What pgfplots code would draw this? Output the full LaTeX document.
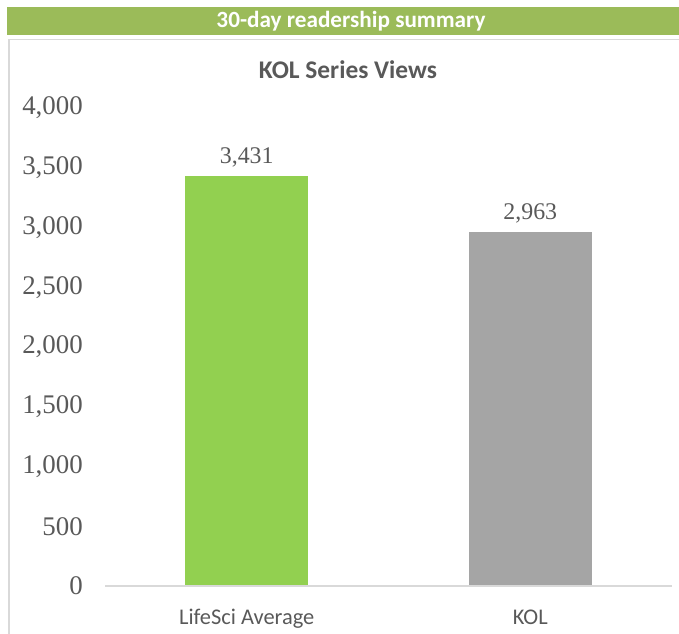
\documentclass[border=0pt]{standalone}
\usepackage{fontspec}
\setmainfont{Liberation Serif}
\newfontfamily\carlito{Carlito}
\usepackage{pgfplots}
\pgfplotsset{compat=1.18}
\definecolor{hdr}{HTML}{9BBB59}
\definecolor{bargreen}{HTML}{92D050}
\definecolor{bargray}{HTML}{A5A5A5}
\definecolor{txt}{HTML}{595959}
\definecolor{bordergray}{HTML}{D9D9D9}
\begin{document}
\begin{tikzpicture}[x=1bp,y=1bp]
\useasboundingbox (0,0) rectangle (679,-634);
\fill[hdr] (7,-7) rectangle (679,-35);
\node[text=white, font=\carlito\bfseries\fontsize{23.3}{27}\selectfont] at (351,-21) {30-day readership summary};
\draw[bordergray, line width=1.2bp] (9,-640) -- (9,-39.5) -- (690,-39.5);
\node[font=\carlito\bfseries\fontsize{25.5}{29}\selectfont, text=txt] at (348,-70) {KOL Series Views};
\begin{axis}[
  at={(105bp,-586bp)}, anchor=south west,
  scale only axis, width=567bp, height=478bp,
  xmin=-0.5, xmax=1.5, ymin=0, ymax=4000,
  ytick={0,500,...,4000},
  xtick={0,1}, xticklabels={LifeSci Average, KOL},
  axis line style={draw=none},
  major tick length=0pt,
  /pgf/number format/assume math mode=true,
  /pgf/number format/1000 sep={,},
  yticklabel style={font=\fontsize{27}{30}\selectfont, text=txt, anchor=east, inner sep=0pt, xshift=-22bp},
  xticklabel style={font=\carlito\fontsize{22.5}{26}\selectfont, text=txt, anchor=base, inner sep=0pt, yshift=-38bp},
  ybar, bar width=123bp,
  nodes near coords,
  nodes near coords style={font=\fontsize{24}{27}\selectfont, text=txt, anchor=center, yshift=19bp, /pgf/number format/1000 sep={,}},
  clip=false,
]
\addplot[fill=bargreen, draw=none, bar shift=0pt] coordinates {(0,3431)};
\addplot[fill=bargray, draw=none, bar shift=0pt] coordinates {(1,2963)};
\draw[bordergray, line width=1.2bp] (axis cs:-0.5,0) -- (axis cs:1.5,0);
\end{axis}
\end{tikzpicture}
\end{document}
